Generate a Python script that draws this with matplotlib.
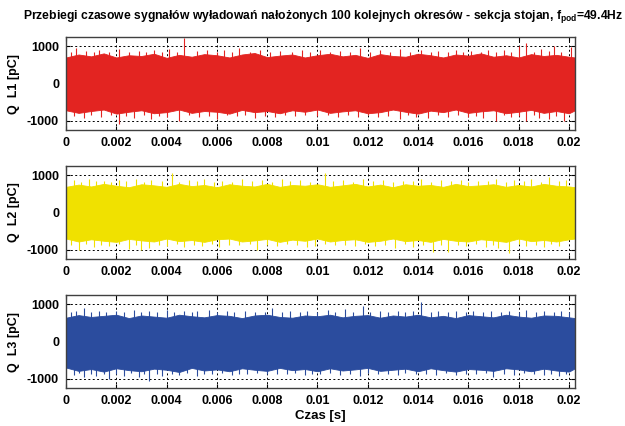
import numpy as np
import matplotlib
matplotlib.use("Agg")
import matplotlib.pyplot as plt

fam = "Liberation Sans"
plt.rcParams['font.family'] = [fam, 'DejaVu Sans']
plt.rcParams['font.weight'] = 'bold'
plt.rcParams['mathtext.fontset'] = 'custom'
plt.rcParams['mathtext.bf'] = fam + ':bold'
plt.rcParams['mathtext.rm'] = fam + ':bold'

# ---------------- data ----------------
title = "Przebiegi czasowe sygnałów wyładowań nałożonych 100 kolejnych okresów - sekcja stojan, f$_{\\mathbf{pod}}$=49.4Hz"
ylabels = ["Q  L1 [pC]", "Q  L2 [pC]", "Q  L3 [pC]"]
xlabel = "Czas [s]"
colors = ["#E32421", "#F0E100", "#2B4C9E"]
f_pod = 49.4
xticks = [0, 0.002, 0.004, 0.006, 0.008, 0.01, 0.012, 0.014, 0.016, 0.018, 0.02]
xticklabels = ["0", "0.002", "0.004", "0.006", "0.008", "0.01", "0.012", "0.014", "0.016", "0.018", "0.02"]
yticks = [-1000, 0, 1000]
yticklabels = ["-1000", "0", "1000"]

# core envelope sampled every 0.0005 s (41 points, 0 .. 0.02) + period end
t_core = [i * 0.0005 for i in range(41)] + [1 / 49.4]

l1_hi = [700, 780, 730, 810, 700, 760, 740, 800, 690, 770, 720, 790, 760, 700, 780, 820, 710, 750, 780, 700, 760,
         800, 730, 770, 690, 790, 740, 720, 800, 760, 700, 780, 750, 810, 720, 760, 700, 790, 740, 770, 720, 700]
l1_lo = [-720, -790, -740, -700, -810, -760, -720, -800, -770, -700, -790, -740, -760, -810, -710, -770, -740, -800, -720, -760, -700,
         -790, -750, -720, -800, -770, -700, -760, -810, -730, -770, -700, -790, -750, -720, -800, -760, -710, -790, -740, -800, -720]
l2_hi = [690, 750, 700, 770, 720, 680, 760, 730, 690, 770, 710, 740, 680, 760, 720, 700, 770, 690, 740, 720, 760,
         690, 730, 770, 700, 750, 680, 760, 720, 740, 690, 770, 710, 730, 760, 690, 740, 700, 770, 720, 700, 680]
l2_lo = [-700, -780, -720, -760, -790, -710, -750, -780, -700, -770, -740, -790, -720, -700, -780, -750, -710, -790, -730, -760, -700,
         -780, -740, -720, -790, -760, -700, -770, -740, -790, -710, -760, -780, -720, -750, -790, -700, -770, -740, -780, -720, -700]
l3_hi = [640, 710, 660, 690, 720, 630, 700, 670, 640, 720, 680, 650, 710, 690, 630, 700, 720, 660, 640, 700, 680,
         720, 650, 690, 710, 640, 700, 670, 720, 650, 690, 630, 710, 680, 650, 720, 670, 640, 700, 690, 650, 630]
l3_lo = [-700, -790, -740, -810, -720, -770, -800, -730, -760, -820, -710, -780, -750, -800, -720, -760, -790, -710, -770, -740, -800,
         -720, -780, -750, -710, -790, -760, -730, -800, -720, -770, -810, -740, -760, -790, -720, -750, -800, -730, -780, -810, -720]

# spikes (time [s], amplitude [pC])
l1_up_t = [0.0002, 0.0004, 0.0008, 0.0011, 0.0013, 0.0017, 0.0021, 0.0025, 0.0029, 0.0032, 0.0035, 0.0038, 0.0041, 0.0044, 0.0047,
           0.0052, 0.0056, 0.0060, 0.0063, 0.0066, 0.0069, 0.0073, 0.0077, 0.0081, 0.0085, 0.0090, 0.0094, 0.0097, 0.0101, 0.0105,
           0.0109, 0.0113, 0.0117, 0.0121, 0.0125, 0.0129, 0.0133, 0.0137, 0.0141, 0.0145, 0.0148, 0.0152, 0.0155, 0.0158, 0.0161,
           0.0165, 0.0168, 0.0171, 0.0174, 0.0177, 0.0180, 0.0183, 0.0186, 0.0189, 0.0192, 0.0194, 0.0197, 0.0201]
l1_up_v = [850, 950, 880, 840, 900, 850, 920, 860, 880, 840, 900, 860, 930, 850, 1230,
           880, 910, 850, 900, 860, 950, 840, 890, 850, 870, 860, 910, 840, 900, 850,
           880, 860, 950, 840, 890, 860, 920, 850, 900, 860, 880, 850, 900, 860, 870,
           850, 910, 860, 890, 850, 1000, 1080, 860, 930, 880, 1000, 850, 980]
l1_dn_t = [0.0003, 0.0007, 0.0010, 0.0014, 0.0018, 0.0021, 0.0024, 0.0027, 0.0031, 0.0034, 0.0037, 0.0040, 0.0045, 0.0049,
           0.0053, 0.0057, 0.0060, 0.0064, 0.0068, 0.0071, 0.0075, 0.0079, 0.0083, 0.0087, 0.0091, 0.0095, 0.0100, 0.0104,
           0.0108, 0.0112, 0.0116, 0.0120, 0.0124, 0.0128, 0.0133, 0.0136, 0.0139, 0.0144, 0.0148, 0.0152, 0.0156, 0.0160,
           0.0163, 0.0166, 0.0171, 0.0174, 0.0177, 0.0180, 0.0183, 0.0186, 0.0188, 0.0192, 0.0195, 0.0198]
l1_dn_v = [-880, -930, -860, -900, -850, -1100, -870, -920, -860, -950, -880, -900, -1000, -860,
           -900, -870, -950, -860, -880, -850, -920, -870, -900, -850, -880, -860, -870, -850,
           -900, -860, -890, -850, -900, -870, -950, -860, -900, -920, -860, -890, -850, -900,
           -870, -930, -1000, -860, -900, -870, -1000, -860, -930, -950, -870, -1000]

l2_up_t = [0.0003, 0.0006, 0.0009, 0.0012, 0.0015, 0.0018, 0.0021, 0.0024, 0.0028, 0.0031, 0.0034, 0.0038, 0.0042, 0.0045,
           0.0049, 0.0052, 0.0055, 0.0059, 0.0062, 0.0066, 0.0070, 0.0074, 0.0078, 0.0082, 0.0086, 0.0089, 0.0093, 0.0097,
           0.0103, 0.0106, 0.0110, 0.0114, 0.0118, 0.0122, 0.0126, 0.0130, 0.0134, 0.0138, 0.0141, 0.0145, 0.0149, 0.0153,
           0.0157, 0.0160, 0.0164, 0.0168, 0.0171, 0.0175, 0.0178, 0.0182, 0.0185, 0.0189, 0.0192, 0.0196, 0.0199]
l2_up_v = [880, 830, 900, 840, 860, 820, 880, 840, 900, 830, 870, 840, 1050, 830,
           880, 840, 900, 830, 860, 820, 890, 840, 870, 830, 900, 840, 880, 830,
           1050, 840, 870, 830, 890, 840, 880, 830, 860, 840, 900, 830, 870, 840,
           880, 830, 860, 840, 890, 830, 870, 840, 900, 830, 950, 840, 880]
l2_dn_t = [0.0002, 0.0005, 0.0008, 0.0011, 0.0014, 0.0017, 0.0021, 0.0025, 0.0028, 0.0030, 0.0033, 0.0037, 0.0040, 0.0044,
           0.0047, 0.0051, 0.0054, 0.0058, 0.0061, 0.0065, 0.0069, 0.0073, 0.0076, 0.0080, 0.0084, 0.0088, 0.0092, 0.0096,
           0.0099, 0.0103, 0.0107, 0.0111, 0.0115, 0.0119, 0.0123, 0.0127, 0.0131, 0.0135, 0.0138, 0.0142, 0.0146, 0.0149,
           0.0152, 0.0156, 0.0159, 0.0163, 0.0167, 0.0170, 0.0172, 0.0176, 0.0180, 0.0183, 0.0187, 0.0190, 0.0193, 0.0196]
l2_dn_v = [-880, -1000, -860, -920, -870, -900, -860, -980, -880, -1000, -950, -870, -900, -860,
           -930, -870, -900, -860, -920, -870, -880, -860, -1000, -870, -900, -860, -880, -930,
           -900, -860, -880, -870, -910, -860, -900, -870, -950, -860, -920, -870, -1050, -880,
           -1050, -870, -900, -860, -920, -870, -950, -1100, -860, -900, -870, -930, -860, -900]

l3_up_t = [0.0002, 0.0004, 0.0007, 0.0010, 0.0013, 0.0016, 0.0020, 0.0023, 0.0027, 0.0030, 0.0033, 0.0036, 0.0040, 0.0043,
           0.0047, 0.0050, 0.0052, 0.0057, 0.0060, 0.0064, 0.0067, 0.0071, 0.0075, 0.0079, 0.0082, 0.0086, 0.0089, 0.0093,
           0.0096, 0.0100, 0.0104, 0.0107, 0.0111, 0.0114, 0.0118, 0.0121, 0.0125, 0.0128, 0.0132, 0.0135, 0.0138, 0.0141,
           0.0145, 0.0148, 0.0152, 0.0155, 0.0159, 0.0162, 0.0166, 0.0169, 0.0173, 0.0176, 0.0180, 0.0183, 0.0187, 0.0190,
           0.0194, 0.0197, 0.0200]
l3_up_v = [780, 820, 900, 790, 830, 780, 810, 790, 840, 780, 820, 790, 850, 780,
           830, 790, 810, 850, 780, 820, 790, 830, 780, 800, 900, 790, 820, 780,
           810, 790, 840, 780, 880, 800, 950, 790, 830, 780, 820, 790, 810, 1050,
           790, 830, 780, 820, 790, 810, 780, 830, 790, 820, 780, 850, 790, 820,
           780, 810, 800]
l3_dn_t = [0.0003, 0.0005, 0.0007, 0.0010, 0.0012, 0.0015, 0.0017, 0.0020, 0.0023, 0.0026, 0.0029, 0.0031, 0.0033, 0.0036,
           0.0038, 0.0042, 0.0045, 0.0048, 0.0052, 0.0055, 0.0058, 0.0062, 0.0066, 0.0069, 0.0072, 0.0076, 0.0080, 0.0084,
           0.0088, 0.0091, 0.0095, 0.0098, 0.0101, 0.0105, 0.0109, 0.0113, 0.0117, 0.0120, 0.0124, 0.0128, 0.0132, 0.0135,
           0.0139, 0.0143, 0.0147, 0.0151, 0.0155, 0.0159, 0.0163, 0.0167, 0.0170, 0.0174, 0.0178, 0.0182, 0.0186, 0.0190,
           0.0193, 0.0196, 0.0199]
l3_dn_v = [-900, -860, -950, -880, -920, -870, -1000, -880, -930, -860, -950, -880, -1050, -870,
           -940, -880, -900, -860, -920, -870, -880, -860, -900, -870, -870, -860, -880, -870,
           -880, -860, -900, -870, -870, -860, -900, -870, -920, -860, -880, -870, -900, -860,
           -870, -880, -890, -860, -900, -870, -880, -860, -950, -870, -900, -860, -880, -900,
           -870, -920, -880]

channels = [
    (l1_hi, l1_lo, l1_up_t, l1_up_v, l1_dn_t, l1_dn_v),
    (l2_hi, l2_lo, l2_up_t, l2_up_v, l2_dn_t, l2_dn_v),
    (l3_hi, l3_lo, l3_up_t, l3_up_v, l3_dn_t, l3_dn_v),
]

# ---------------- figure ----------------
fig = plt.figure(figsize=(6.25, 4.26), dpi=100)
fig.patch.set_facecolor("white")

left, width, height = 66 / 625, (575 - 66) / 625, 93 / 426
bottoms = [1 - 130 / 426, 1 - 259 / 426, 1 - 388 / 426]

for i, (hi, lo, ut, uv, dt, dv) in enumerate(channels):
    ax = fig.add_axes([left, bottoms[i], width, height])
    c = colors[i]
    ax.fill_between(t_core, lo, hi, color=c, lw=0.6, edgecolor=c, zorder=2)
    ax.vlines(ut, 0, uv, color=c, lw=0.8, zorder=2)
    ax.vlines(dt, dv, 0, color=c, lw=0.8, zorder=2)
    ax.set_xlim(0, 1 / f_pod)
    ax.set_ylim(-1250, 1250)
    ax.set_xticks(xticks)
    ax.set_xticklabels(xticklabels)
    ax.set_yticks(yticks)
    ax.set_yticklabels(yticklabels)
    ax.grid(True, color="black", linestyle=(0, (2, 2.5)), linewidth=0.7, zorder=1)
    ax.set_axisbelow(True)
    ax.tick_params(direction="in", length=3, width=0.8, top=True, right=True,
                   labelsize=9, pad=5, colors="black")
    for lab in ax.get_xticklabels() + ax.get_yticklabels():
        lab.set_fontweight("bold")
    for s in ax.spines.values():
        s.set_color("#404040")
        s.set_linewidth(1.0)
    ax.set_ylabel(ylabels[i], fontsize=9, fontweight="bold", labelpad=5)
    if i == 0:
        ax.set_title(title, fontsize=8.75, fontweight="bold", pad=13, x=0.505)
    if i == 2:
        ax.set_xlabel(xlabel, fontsize=9.5, fontweight="bold", labelpad=2)

fig.savefig("out.png", dpi=100)
